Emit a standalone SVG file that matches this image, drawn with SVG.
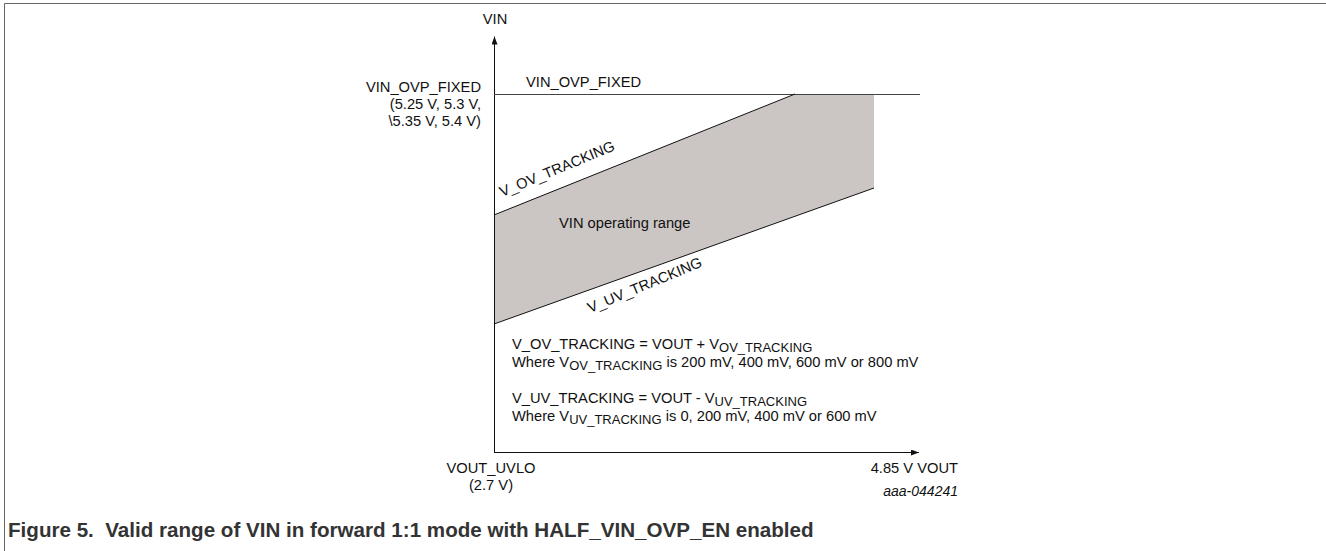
<svg xmlns="http://www.w3.org/2000/svg" width="1326" height="551" viewBox="0 0 1326 551">
<defs>
<style>
text{font-family:"Liberation Sans",Arial,sans-serif;font-size:14.7px;fill:#111}
.sub{font-size:13px}
.ital{font-style:italic;font-size:14px}
.cap{font-weight:bold;font-size:20.6px;fill:#333;white-space:pre}
.ln{stroke:#111;stroke-width:1;fill:none}
.frame{stroke:#666;stroke-width:1;fill:none}
</style>
<marker id="arr" viewBox="0 0 8 6" refX="8" refY="3" markerWidth="8" markerHeight="6" markerUnits="userSpaceOnUse" orient="auto">
<path d="M0,0 L8,3 L0,6 Z" fill="#111"/>
</marker>
</defs>
<rect width="1326" height="551" fill="#fff"/>
<path class="frame" d="M4.5,551 V3.5 H1326"/>

<g id="region">
<polygon points="494,215 795,94 874,94 874,188 494,324" fill="#cbc6c3"/>
</g>

<g id="connectors">
<line class="ln" x1="494.5" y1="453" x2="494.5" y2="36.5" marker-end="url(#arr)"/>
<line class="ln" x1="494" y1="452.5" x2="919" y2="452.5" marker-end="url(#arr)"/>
<line x1="494" y1="94.5" x2="920" y2="94.5" stroke="#444" stroke-width="1"/>
<line class="ln" x1="494" y1="215" x2="795" y2="94"/>
<line class="ln" x1="494" y1="324" x2="874" y2="188"/>
</g>

<g id="axis-labels">
<text x="495" y="24" text-anchor="middle">VIN</text>
<text x="481" y="92" text-anchor="end">VIN_OVP_FIXED</text>
<text x="481" y="109" text-anchor="end">(5.25 V, 5.3 V,</text>
<text x="481" y="126" text-anchor="end">\5.35 V, 5.4 V)</text>
<text x="491" y="473" text-anchor="middle">VOUT_UVLO</text>
<text x="491" y="490" text-anchor="middle">(2.7 V)</text>
<text x="958" y="473" text-anchor="end">4.85 V VOUT</text>
</g>

<g id="curve-labels">
<text x="526" y="87">VIN_OVP_FIXED</text>
<text transform="translate(502,197) rotate(-22.5)">V_OV_TRACKING</text>
<text x="559" y="228">VIN operating range</text>
<text transform="translate(590,313) rotate(-22.5)">V_UV_TRACKING</text>
</g>

<g id="equations">
<text x="512" y="349">V_OV_TRACKING = VOUT + V<tspan class="sub" dy="3">OV_TRACKING</tspan></text>
<text x="512" y="367">Where V<tspan class="sub" dy="3">OV_TRACKING</tspan><tspan dy="-3"> is 200 mV, 400 mV, 600 mV or 800 mV</tspan></text>
<text x="512" y="403">V_UV_TRACKING = VOUT - V<tspan class="sub" dy="3">UV_TRACKING</tspan></text>
<text x="512" y="421">Where V<tspan class="sub" dy="3">UV_TRACKING</tspan><tspan dy="-3"> is 0, 200 mV, 400 mV or 600 mV</tspan></text>
</g>

<g id="footer">
<text class="ital" x="958" y="496" text-anchor="end">aaa-044241</text>
<text class="cap" x="8" y="537" xml:space="preserve">Figure 5.  Valid range of VIN in forward 1:1 mode with HALF_VIN_OVP_EN enabled</text>
</g>
</svg>
